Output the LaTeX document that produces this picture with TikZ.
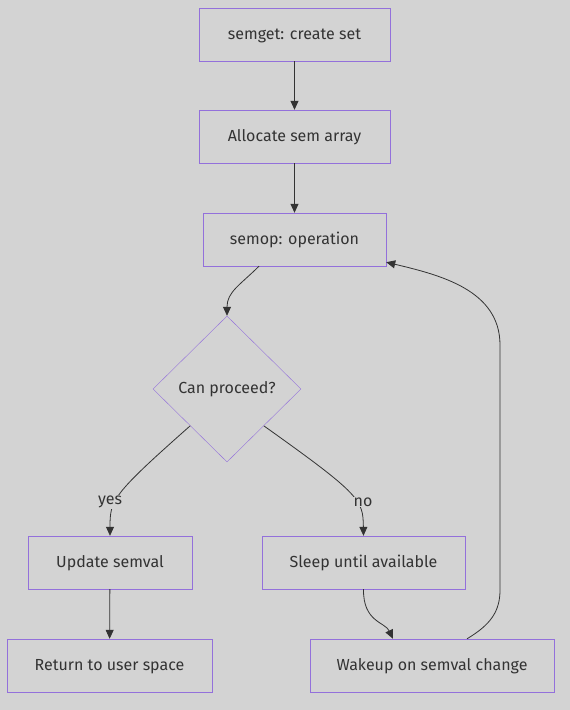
\documentclass[tikz,border=0pt]{standalone}
\usepackage{fontspec}
\setmainfont{Fira Sans}
\usetikzlibrary{shapes.geometric,arrows.meta,positioning}

\definecolor{bg}{HTML}{D3D3D3}
\definecolor{edge}{HTML}{9370DB}
\definecolor{ink}{HTML}{333333}

\begin{document}
\begin{tikzpicture}[
        x=1pt, y=1pt,
        box/.style = {
            draw=edge,
            fill=bg,
            inner sep=0pt,
            minimum height=53pt,
            text=ink,
            text height=12pt,
            text depth=2pt,
            font=\fontsize{16}{19}\selectfont
        },
        choice/.style = {
            diamond,
            draw=edge,
            fill=bg,
            inner sep=0pt,
            minimum width=148pt,
            minimum height=146pt,
            text=ink,
            font=\fontsize{16}{19}\selectfont
        },
        lbl/.style = {fill=bg, inner sep=1pt, text=ink, font=\fontsize{16}{19}\selectfont},
        arr/.style = {draw=ink, line width=0.8pt, -{Triangle[length=9pt,width=8pt]}}
    ]

        \fill[bg] (0,0) rectangle (570,-710);
        \useasboundingbox (0,0) rectangle (570,-710);

        \node[box, minimum width=191pt] (semget) at (294.5,-34.5) {semget: create set};
        \node[box, minimum width=191pt] (alloc) at (294.5,-136.5) {Allocate sem array};
        \node[box, minimum width=183pt] (semop) at (294.5,-239.5) {semop: operation};
        \node[choice] (proceed) at (227,-389) {Can proceed?};
        \node[box, minimum width=164pt] (update) at (110,-562.5) {Update semval};
        \node[box, minimum width=203pt] (sleep) at (363.5,-562.5) {Sleep until available};
        \node[box, minimum width=205pt] (return) at (109.5,-665.5) {Return to user space};
        \node[box, minimum width=244pt] (wakeup) at (432,-665.5) {Wakeup on semval change};

        \draw[arr] (semget) -- (alloc);
        \draw[arr] (alloc) -- (semop);
        \draw[arr] ([xshift=-35.5pt]semop.south) .. controls (240,-285) and (227,-292) .. (proceed.north);
        \draw[arr] (proceed.225) .. controls (112,-495) and (110,-500) .. (update.north);
        \draw[arr] (proceed.315) .. controls (361,-495) and (363,-500) .. (sleep.north);
        \draw[arr] (update) -- (return);
        \draw[arr] (sleep.south) .. controls (363,-622) and (385,-622) .. ([xshift=-39pt]wakeup.north);
        \draw[arr] ([xshift=35pt]wakeup.north) .. controls (490,-625) and (500,-612) .. (500,-590)
            -- (500,-345) .. controls (500,-290) and (440,-275) .. ([yshift=4pt]semop.south east);

        % edge labels
        \node[lbl] (yes) at (110,-502) {yes};
        \node[lbl] (no) at (363,-502) {no};
    \end{tikzpicture}
\end{document}
